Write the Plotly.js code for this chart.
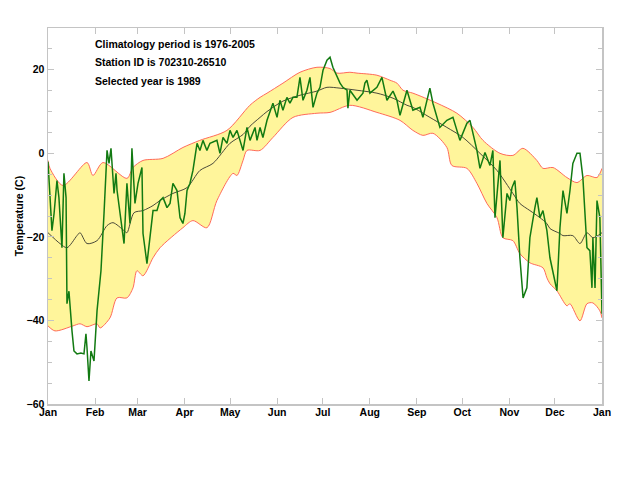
<!DOCTYPE html>
<html>
<head>
<meta charset="utf-8">
<script src="https://cdn.plot.ly/plotly-3.0.1.min.js"></script>
<style>html,body{margin:0;padding:0;background:#fff;}#chart{width:628px;height:482px;}</style>
</head>
<body>
<div id="chart"></div>
<script>
// Day of year (0 = Jan 1) and temperature (C)
var upperDays = [0,1.3,9.9,25.7,29.6,36.2,52,56,62.6,75.8,88.9,100,117.9,133,139.7,144.3,154.8,166,177.2,185.8,190.4,198.9,203.6,216.7,225.3,229.9,233.9,240.4,256.3,269.4,280,286.6,297.8,306.3,312.9,322.1,326.1,332.7,341.9,348.5,355.1,361.7,365];
var upperTemp = [-1.7,-3.6,-7.7,-2.2,-5.3,-2.2,-6,-3.4,-1.7,-1.2,1.4,3.1,5.5,11.5,13.4,14.4,16.8,19.4,20.6,20.3,19.2,19.4,19.2,18.7,17.5,16.8,15.1,14.4,12,9.6,6.2,3.1,0,-0.5,1.2,-1.7,-3.6,-3.4,-5.8,-7,-5.3,-5.8,-3.6];

var lowerDays = [0,4.6,16.5,21.1,25.7,32.3,34.3,40.8,45.5,52,56,58.6,62.6,69.2,73.8,88.9,95.5,104.7,111.3,121.9,124.5,128.5,131.1,139.7,148.2,161.4,177.2,185.8,198.9,216.7,231.9,240.4,247,253.6,262.8,266.1,276,282.6,289.2,295.8,299.7,306.3,310.9,317.5,326.1,328.7,330.7,335.3,341.9,343.9,350.5,355.1,359,363.6,365];
var lowerTemp = [-41.3,-42.5,-41.3,-40.8,-41.5,-40.8,-41.8,-39.4,-34.6,-34.6,-32.2,-28.1,-29.3,-25,-22.6,-17.8,-16.1,-17.8,-11.3,-4.8,-5.3,-1.7,0.7,0.7,3.8,8.6,9.6,9.8,11.5,9.8,7.9,5.5,4.3,4.8,1.4,-2.9,-3.6,-7.2,-12,-15.4,-20.2,-20.9,-24,-26.2,-27.4,-29.8,-31.2,-32.9,-36.5,-36,-40.1,-36,-35.8,-37.7,-39.4];

var meanDays = [0,7.9,12.5,19.1,21.1,25.7,32.3,38.9,42.8,50.1,52,56.7,62.6,69.2,73.8,82.3,91.6,100.1,108.7,119.9,128.5,133.1,139.7,144.3,154.8,166,177.2,183.8,192.4,203.6,216.7,227.3,236.5,240.4,251.6,262.8,273.4,284.6,295.8,306.3,310.9,317.5,324.1,328.7,330.7,337.3,339.3,345.8,350.5,355.1,359,365];
var meanTemp = [-19,-21.6,-22.6,-19.7,-19,-21.6,-20.9,-17.3,-16.6,-18.5,-19,-14.2,-13.7,-12.5,-11.3,-9.6,-8.2,-4.1,-2.4,2.4,4.5,6.5,8.6,10,12.5,13.9,14.9,15.8,15.6,15.1,14.4,13.2,11.5,11,8.6,6.2,3.8,0,-4.1,-9.6,-12,-13.7,-15.4,-16.8,-18,-19.2,-19.7,-19.7,-21.6,-19,-20.2,-19];

var yearDays = [0,2.6,4,5.9,7.2,8.6,9.2,10.5,11.9,12.5,13.8,15.8,17.1,19.1,21.7,23.7,25,25.7,27,28.3,30.3,32.3,34.9,36.9,38.9,40.2,41.5,43.5,44.8,45.5,50.1,52,54,55.3,57.3,59.3,61.9,62.6,65.2,69.2,71.8,73.8,75.8,78.4,80.4,82.3,85,87,88.9,90.2,91.6,93.5,95.5,98.2,100.1,102.1,104.7,106.7,111.3,113.3,115.3,117.9,119.9,121.9,124.5,128.5,131.1,133.1,136.4,137.7,139.7,141.6,144.3,148.2,150.9,152.8,154.8,157.4,159.4,161.4,164,166,168,170.6,172.6,174.6,177.2,179.2,181.2,183.8,185.8,187.7,190.4,192.4,194.3,197,197.6,198.9,203.6,207.5,208.8,210.1,212.1,216.7,220,223.3,227.3,229.9,231.9,236.5,240.4,245.1,247,251.6,253.6,258.2,262.8,266.8,271.4,276,278,282.6,284.6,287.9,291.2,293.1,294.5,297.8,299.7,302.4,304.3,305.7,307.6,309,310.9,313,315.5,317.5,320.8,322.1,324.1,326.1,328.7,330.7,335.3,337.3,339.3,341.9,343.9,345.8,348.5,350.5,352.4,355.1,357,358.4,359,360.4,361.7,363.6,365];
var yearTemp = [-2,-18.5,-14.4,-6.5,-10.6,-21.6,-22.6,-4.8,-10.6,-36,-33,-42.5,-47.3,-48,-47.8,-48,-43.2,-46.6,-54.5,-47.3,-49.7,-37.7,-28.1,-14.4,0.7,-2.4,1.2,-9.6,-4.8,-8.9,-21.6,-7.2,-16.8,1.2,-12,-7.2,-3.4,-19.2,-26.4,-13.7,-13.7,-11.3,-10.6,-13,-12,-7.2,-8.9,-15.4,-16.8,-14.4,-8.9,-7.2,-4.1,2.4,0.7,3.1,0.7,2.4,3.1,0,3.8,2.4,5.5,3.8,5.5,0.7,6.2,3.1,6.2,3.1,6.2,3.8,7.9,12,8.6,12.7,10.3,13.4,12,13.4,13.4,18.2,12.7,15.1,18.2,11,14.4,15.8,19.9,22.3,23,20.6,18.2,16.8,15.8,15.1,10.8,15.1,12.7,14.4,16.8,17.5,14.4,15.8,18.2,12.7,14.9,12.7,9.1,15.1,10.3,11,8.6,15.6,12,6.2,7.9,8.6,3.1,7.2,7.9,0.7,-3.6,0.2,-2.9,0.7,-15.4,-1.7,-20.2,-9.6,-11.3,-8.2,-6.5,-13,-25,-34.6,-32.2,-20.2,-13,-10.6,-15.4,-13.7,-18.5,-25,-32.9,-17.8,-8.9,-14.4,-8.9,-2.4,0,0,-5.8,-22.6,-23.3,-32.2,-20.2,-32.2,-11.3,-15.4,-38.4];

var monthTicks = [0,31,59,90,120,151,181,212,243,273,304,334,365];
var monthLabels = ['Jan','Feb','Mar','Apr','May','Jun','Jul','Aug','Sep','Oct','Nov','Dec','Jan'];
var infoLines = ['Climatology period is 1976-2005','Station ID is 702310-26510','Selected year is 1989'];

var FONT = '"Liberation Sans", Arial, Helvetica, sans-serif';

var traces = [
  {x: lowerDays, y: lowerTemp, mode: 'lines', line: {color: '#ff6a5a', width: 1, shape: 'spline', smoothing: 0.8}, hoverinfo: 'skip'},
  {x: upperDays, y: upperTemp, mode: 'lines', fill: 'tonexty', fillcolor: '#fff59b', line: {color: '#ff6a5a', width: 1, shape: 'spline', smoothing: 0.8}, hoverinfo: 'skip'},
  {x: meanDays, y: meanTemp, mode: 'lines', line: {color: '#4a4a3a', width: 1, shape: 'spline', smoothing: 0.8}},
  {x: yearDays, y: yearTemp, mode: 'lines', line: {color: '#127a12', width: 1.5}}
];

var annotations = infoLines.map(function(t, i){
  return {xref: 'paper', yref: 'paper', x: 0.081, y: [0.957, 0.909, 0.858][i], xanchor: 'left', yanchor: 'middle',
          text: '<b>' + t + '</b>', showarrow: false, font: {family: FONT, size: 10.5, color: '#000'}};
});

var axisCommon = {showgrid: false, zeroline: false, showline: true, linecolor: '#c4c4c4', linewidth: 1.5,
  mirror: 'ticks', ticks: 'inside', ticklen: 6, tickcolor: '#c4c4c4', tickwidth: 1,
  tickfont: {family: FONT, size: 10.5, color: '#000', weight: 'bold'}};

var layout = {
  width: 628, height: 482,
  margin: {l: 48, r: 26, t: 28, b: 78},
  paper_bgcolor: '#fff', plot_bgcolor: '#fff',
  showlegend: false,
  xaxis: Object.assign({}, axisCommon, {range: [0, 365], tickmode: 'array', tickvals: monthTicks, ticktext: monthLabels, ticklabelstandoff: -2}),
  yaxis: Object.assign({}, axisCommon, {range: [-60, 30], tickmode: 'array', tickvals: [-60,-40,-20,0,20],
    minor: {dtick: 5, tick0: 0, ticks: 'inside', ticklen: 4, tickcolor: '#c4c4c4', showgrid: false},
    title: {text: '<b>Temperature (C)</b>', font: {family: FONT, size: 10.5, color: '#000'}, standoff: 1}}),
  annotations: annotations
};

Plotly.newPlot('chart', traces, layout, {displayModeBar: false, staticPlot: true});
</script>
</body>
</html>
